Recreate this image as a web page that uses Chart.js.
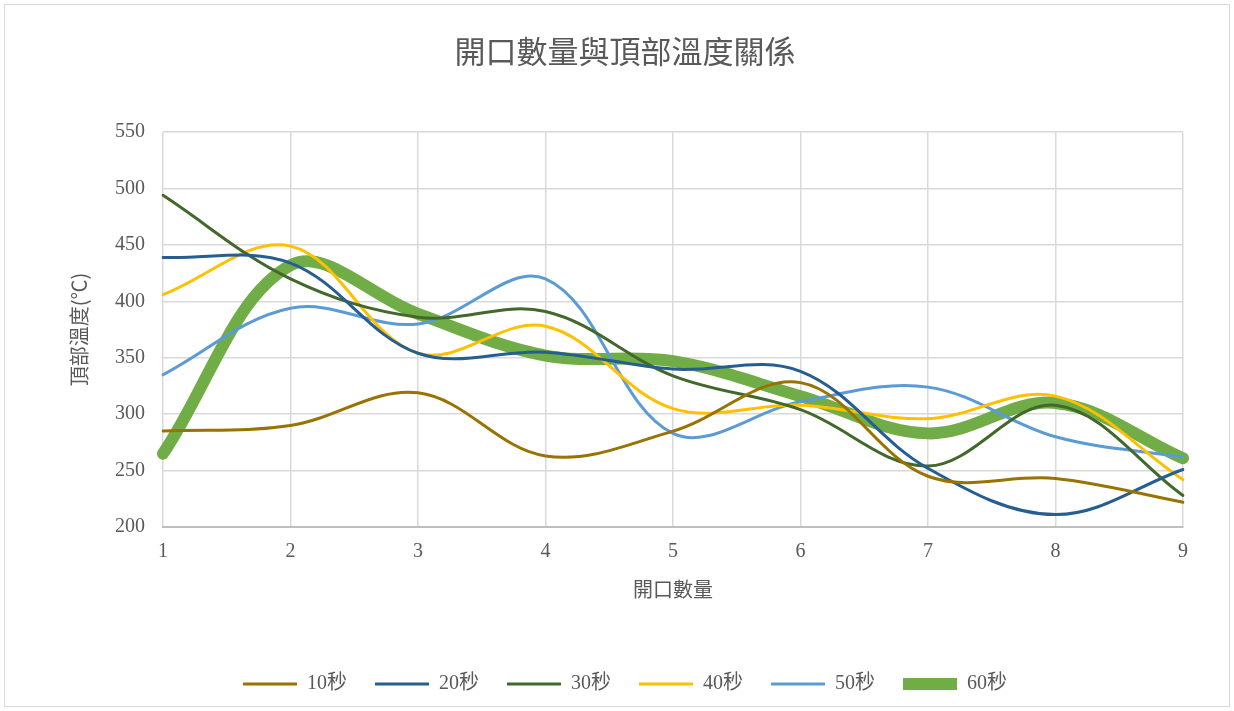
<!DOCTYPE html>
<html>
<head>
<meta charset="utf-8">
<script src="https://cdn.jsdelivr.net/npm/chart.js@4"></script>
<style>
  html, body { margin: 0; padding: 0; background: #fff; }
  #frame {
    position: absolute; left: 4px; top: 4px;
    width: 1224px; height: 701px;
    border: 1px solid #d9d9d9;
  }
</style>
</head>
<body>
<div id="frame"><canvas id="tempChart"></canvas></div>
<script>
// x: number of openings
const openings = ["1", "2", "3", "4", "5", "6", "7", "8", "9"];
const seriesNames = ["10秒", "20秒", "30秒", "40秒", "50秒", "60秒"];

// top temperature (°C)
const temp10 = [285, 290, 319, 263, 285, 328, 245, 243, 222];
const temp20 = [439, 434, 354, 355, 340, 338, 252, 211, 251];
const temp30 = [494, 420, 386, 391, 334, 304, 254, 308, 228];
const temp40 = [406, 449, 354, 378, 305, 308, 296, 316, 242];
const temp50 = [335, 394, 380, 420, 283, 311, 324, 280, 262];
const temp60 = [265, 432, 389, 352, 347, 316, 283, 310, 261];

const colors = ["#997300", "#255e91", "#43682b", "#ffc000", "#5b9bd5", "#70ad47"];
const widths = [3, 3, 3, 3, 3, 12];
const allTemps = [temp10, temp20, temp30, temp40, temp50, temp60];

const textColor = "#595959";
const serif = "'Liberation Serif', 'Noto Sans CJK TC', serif";
const cjk = "'Noto Sans CJK TC', sans-serif";

const datasets = seriesNames.map((name, i) => ({
  label: name,
  data: allTemps[i],
  borderColor: colors[i],
  backgroundColor: colors[i],
  borderWidth: widths[i],
  borderCapStyle: "round",
  pointRadius: 0,
  pointHoverRadius: 0,
  pointStyle: "line",
  tension: 0.36,
  fill: false
}));

new Chart(document.getElementById("tempChart"), {
  type: "line",
  data: { labels: openings, datasets: datasets },
  options: {
    responsive: true,
    maintainAspectRatio: false,
    animation: false,
    layout: { padding: { left: 62, right: 46, top: 18, bottom: 2 } },
    plugins: {
      title: {
        display: true,
        text: "開口數量與頂部溫度關係",
        color: textColor,
        font: { family: cjk, size: 31, weight: "normal" },
        padding: { top: 10, bottom: 62 }
      },
      legend: {
        position: "bottom",
        labels: {
          usePointStyle: true,
          pointStyleWidth: 54,
          color: textColor,
          font: { family: serif, size: 20 },
          padding: 28
        }
      },
      tooltip: { enabled: false }
    },
    scales: {
      x: {
        offset: false,
        grid: { color: "#d9d9d9", lineWidth: 1.5, drawTicks: false },
        border: { color: "#bfbfbf", width: 2 },
        ticks: { color: textColor, font: { family: serif, size: 20 }, padding: 13, maxRotation: 0 },
        title: {
          display: true,
          text: "開口數量",
          color: textColor,
          font: { family: cjk, size: 20 },
          padding: { top: 6, bottom: 45 }
        },
        afterFit: s => { s.height = 119; }
      },
      y: {
        min: 200,
        max: 550,
        grid: { color: "#d9d9d9", lineWidth: 1.5, drawTicks: false },
        border: { display: false },
        ticks: { stepSize: 50, color: textColor, font: { family: serif, size: 20 }, padding: 18 },
        title: {
          display: true,
          text: "頂部溫度(℃)",
          color: textColor,
          font: { family: cjk, size: 20 },
          padding: { top: 0, bottom: 0 }
        },
        afterFit: s => { s.width = 96; }
      }
    }
  }
});
</script>
</body>
</html>
